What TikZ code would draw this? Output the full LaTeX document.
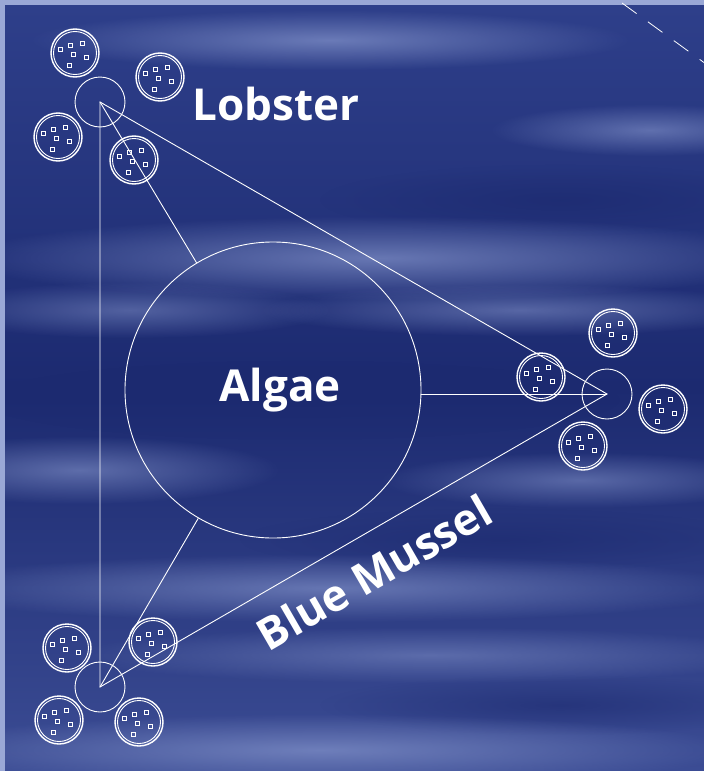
\documentclass[tikz,border=0pt]{standalone}
\usepackage{fontspec}
\setmainfont{Open Sans}
\usetikzlibrary{fadings}
\definecolor{seadark}{HTML}{1C2A70}
\definecolor{seamid}{HTML}{2E3F8A}
\definecolor{sealight}{HTML}{8595CC}
\definecolor{framecol}{HTML}{9AA8D6}
\tikzfading[name=softedge, inner color=transparent!0, outer color=transparent!100]
\tikzset{
  thinline/.style={white, line width=0.9pt},
  hub/.style={circle, draw=white, line width=0.9pt, minimum size=50pt, inner sep=0pt},
  bigcircle/.style={circle, draw=white, line width=0.9pt, minimum size=296pt, inner sep=0pt},
  label/.style={text=white, font=\bfseries\fontsize{44}{44}\selectfont},
  streak/.style={fill=sealight, path fading=softedge},
  darkstreak/.style={fill=seadark, path fading=softedge},
  cell/.pic={
    \draw[white, line width=1.4pt] (0,0) circle (24);
    \draw[white, line width=0.9pt] (0,0) circle (21.5);
    \foreach \dx/\dy in {-15/-4, -5/-8, 7/-10, -2/1, 11/4, -6/12}
      \draw[white, line width=0.8pt] (\dx-2,\dy-2) rectangle (\dx+2,\dy+2);
  }
}
\begin{document}
\begin{tikzpicture}[x=1pt, y=-1pt]
\useasboundingbox (0,0) rectangle (704,771);
% background
\fill[framecol] (0,0) rectangle (704,771);
\shade[top color=seamid, bottom color=seamid!85!sealight, middle color=seadark] (5,5) rectangle (704,771);
\begin{scope}
\clip (5,5) rectangle (704,771);
\fill[streak, opacity=.7] (330,40) ellipse (300 and 30);
\fill[streak, opacity=.6] (650,130) ellipse (160 and 26);
\fill[darkstreak, opacity=.7] (560,200) ellipse (240 and 36);
\fill[streak, opacity=.7] (380,258) ellipse (420 and 42);
\fill[streak, opacity=.5] (130,310) ellipse (200 and 28);
\fill[streak, opacity=.55] (520,310) ellipse (260 and 26);
\fill[darkstreak, opacity=.6] (300,400) ellipse (320 and 40);
\fill[streak, opacity=.6] (80,470) ellipse (200 and 34);
\fill[streak, opacity=.55] (580,480) ellipse (200 and 28);
\fill[darkstreak, opacity=.6] (500,540) ellipse (260 and 32);
\fill[streak, opacity=.65] (330,588) ellipse (420 and 34);
\fill[streak, opacity=.5] (430,655) ellipse (360 and 28);
\fill[darkstreak, opacity=.6] (560,705) ellipse (240 and 30);
\fill[streak, opacity=.7] (320,750) ellipse (420 and 36);
\end{scope}
% dashed mark top right
\coordinate (d1) at (622,3);
\coordinate (d2) at (706,64);
\draw[white, line width=0.8pt, dash pattern=on 18pt off 14pt] (d1) -- (d2);
% hubs
\node[hub] (lob) at (100,102) {};
\node[hub] (rgt) at (607,394) {};
\node[hub] (bot) at (100,687) {};
\node[bigcircle] (algae) at (273,390) {};
\node[label] (algaetxt) at (280,390) {Algae};
% triangle
\draw[thinline] (lob.center) -- (rgt.center) -- (bot.center) -- cycle;
% spokes
\draw[thinline] (lob.center) -- (algae);
\draw[thinline] (bot.center) -- (algae);
\draw[thinline] (rgt.center) -- (algae.east |- rgt.center);
% labels
\node[label] (loblbl) at (276,104) {Lobster};
\node[label, rotate=30] (muslbl) at (374,572) {Blue Mussel};
% cells
\pic at (75,53) {cell};
\pic at (160,77) {cell};
\pic at (58,137) {cell};
\pic at (134,160) {cell};
\pic at (541,377) {cell};
\pic at (613,333) {cell};
\pic at (663,409) {cell};
\pic at (583,446) {cell};
\pic at (67,648) {cell};
\pic at (153,642) {cell};
\pic at (59,720) {cell};
\pic at (139,722) {cell};
\end{tikzpicture}
\end{document}
